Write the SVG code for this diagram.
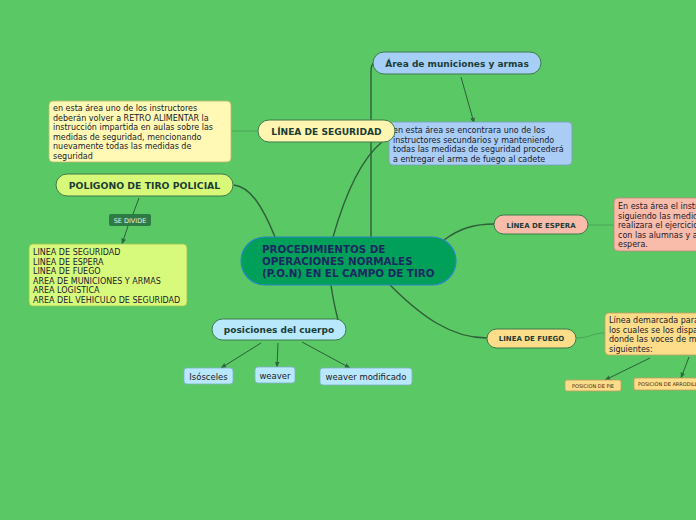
<svg xmlns="http://www.w3.org/2000/svg" width="696" height="520" viewBox="0 0 696 520">
<defs>
<marker id="ah" viewBox="0 0 10 10" refX="9" refY="5" markerWidth="6" markerHeight="6" orient="auto-start-reverse"><path d="M0,1 L10,5 L0,9 z" fill="#2d6a3d"/></marker>
<style>
text{font-family:"DejaVu Sans","Verdana",sans-serif;}
.con{fill:none;stroke:#2f5e3a;stroke-width:1.4;}
.thin{fill:none;stroke:#4aa35a;stroke-width:1;}
.arr{fill:none;stroke:#2f5e3a;stroke-width:1;marker-end:url(#ah);}
.box{stroke:#3d7a4a;stroke-width:1;}
.note{stroke:#8aa060;stroke-width:0.8;}
.t{font-size:8px;fill:#1a1a2a;}
.b{font-weight:bold;fill:#1b3d35;text-anchor:middle;}
</style>
</defs>
<rect width="696" height="520" fill="#5ac864"/>
<g id="connectors">
<path class="con" d="M333,237 C345,195 360,160 382,142"/>
<path class="con" d="M371,237 L371,72 Q371,64 374,63"/>
<path class="con" d="M275,237 C262,205 250,187 234,185"/>
<path class="con" d="M331,285 C333,300 336,312 338,320"/>
<path class="con" d="M444,240 C460,228 475,224 494,224"/>
<path class="con" d="M390,285 C420,315 450,338 487,338"/>
<path class="thin" d="M231,131 L258,131"/>
<path class="thin" d="M588,225 L614,225"/>
<path class="thin" d="M576,338 C590,338 592,333 605,333"/>
<path class="arr" d="M461,77 L474,123"/>
<path class="con" style="stroke-width:1" d="M139,198 L133,214"/>
<path class="arr" d="M128,226 L122,244"/>
<path class="arr" d="M261,343 L221,368"/>
<path class="arr" d="M278,343 L277,367"/>
<path class="arr" d="M302,342 L350,368"/>
<path class="arr" d="M650,358 L605,380"/>
<path class="arr" d="M689,357 L681,378"/>
</g>
<g id="center">
<rect x="241" y="237" width="215" height="48" rx="24" fill="#00a05a" stroke="#2b86c8" stroke-width="1.2"/>
<text x="262" y="253" style="font-size:10.3px;font-weight:bold;fill:#1a2860">PROCEDIMIENTOS DE</text>
<text x="262" y="265" style="font-size:10.3px;font-weight:bold;fill:#1a2860">OPERACIONES NORMALES</text>
<text x="262" y="277" style="font-size:10.3px;font-weight:bold;fill:#1a2860">(P.O.N) EN EL CAMPO DE TIRO</text>
</g>
<g id="municiones">
<rect class="box" x="373" y="52" width="168" height="22" rx="11" fill="#a6cff7"/>
<text class="b" x="457" y="66.5" style="font-size:9px">Área de municiones y armas</text>
</g>
<g id="municiones-note">
<rect class="note" x="389" y="122" width="183" height="43" rx="4" fill="#a9cdf5" style="stroke:#7a9cc0"/>
<text class="t" x="393" y="133">en esta área se encontrara uno de los</text>
<text class="t" x="393" y="142.5">instructores secundarios y manteniendo</text>
<text class="t" x="393" y="152">todas las medidas de seguridad procederá</text>
<text class="t" x="393" y="161.5">a entregar el arma de fuego al cadete</text>
</g>
<g id="seguridad">
<rect class="box" x="258" y="120" width="137" height="22" rx="11" fill="#fdf5b0"/>
<text class="b" x="326.5" y="134.5" style="font-size:9.1px">LÍNEA DE SEGURIDAD</text>
</g>
<g id="seguridad-note">
<rect class="note" x="49" y="101" width="182" height="61" rx="4" fill="#fff9b5" style="stroke:#c0b870"/>
<text class="t" x="53" y="111">en esta área uno de los instructores</text>
<text class="t" x="53" y="120.5">deberán volver a RETRO ALIMENTAR la</text>
<text class="t" x="53" y="130">instrucción impartida en aulas sobre las</text>
<text class="t" x="53" y="139.5">medidas de seguridad, mencionando</text>
<text class="t" x="53" y="149">nuevamente todas las medidas de</text>
<text class="t" x="53" y="158.5">seguridad</text>
</g>
<g id="poligono">
<rect class="box" x="56" y="174" width="177" height="22" rx="11" fill="#d8f87a"/>
<text class="b" x="144.5" y="188.5" style="font-size:9.3px">POLIGONO DE TIRO POLICIAL</text>
</g>
<g id="se-divide">
<rect x="109" y="214" width="42" height="12" rx="2" fill="#2e7a44"/>
<text x="130" y="222.5" style="font-size:6.5px;fill:#e8f5e8;text-anchor:middle">SE DIVIDE</text>
</g>
<g id="poligono-note">
<rect class="note" x="29" y="244" width="158" height="62" rx="4" fill="#d8fa7c" style="stroke:#a0c050"/>
<text class="t" x="33" y="255">LINEA DE SEGURIDAD</text>
<text class="t" x="33" y="264.5">LINEA DE ESPERA</text>
<text class="t" x="33" y="274">LINEA DE FUEGO</text>
<text class="t" x="33" y="283.5">AREA DE MUNICIONES Y ARMAS</text>
<text class="t" x="33" y="293">AREA LOGISTICA</text>
<text class="t" x="33" y="302.5">AREA DEL VEHICULO DE SEGURIDAD</text>
</g>
<g id="posiciones">
<rect class="box" x="212" y="319" width="134" height="21" rx="10.5" fill="#b8e8fc"/>
<text class="b" x="279" y="333" style="font-size:9px">posiciones del cuerpo</text>
</g>
<g id="isosceles">
<rect class="note" x="184" y="368" width="49" height="16" rx="3" fill="#b8e8fc" style="stroke:#80b0c8"/>
<text class="t" x="208.5" y="379.5" style="text-anchor:middle;font-size:8.5px">Isósceles</text>
</g>
<g id="weaver">
<rect class="note" x="255" y="367" width="40" height="16" rx="3" fill="#b8e8fc" style="stroke:#80b0c8"/>
<text class="t" x="275" y="378.5" style="text-anchor:middle;font-size:8.5px">weaver</text>
</g>
<g id="weaver-mod">
<rect class="note" x="320" y="368" width="92" height="17" rx="3" fill="#b8e8fc" style="stroke:#80b0c8"/>
<text class="t" x="366" y="380" style="text-anchor:middle;font-size:8.5px">weaver modificado</text>
</g>
<g id="espera">
<rect class="box" x="494" y="215" width="94" height="19" rx="9.5" fill="#f9bcaa"/>
<text class="b" x="541" y="227.5" style="font-size:7px">LÍNEA DE ESPERA</text>
</g>
<g id="espera-note">
<rect class="note" x="614" y="198" width="100" height="53" rx="4" fill="#f9bcaa" style="stroke:#c08878"/>
<text class="t" x="618" y="209">En esta área el instructor</text>
<text class="t" x="618" y="218.5">siguiendo las medidas de</text>
<text class="t" x="618" y="228">realizara el ejercicio de</text>
<text class="t" x="618" y="237.5">con las alumnas y alumnos</text>
<text class="t" x="618" y="247">espera.</text>
</g>
<g id="fuego">
<rect class="box" x="487" y="329" width="89" height="19" rx="9.5" fill="#fddc8a"/>
<text class="b" x="531.5" y="341" style="font-size:7px">LINEA DE FUEGO</text>
</g>
<g id="fuego-note">
<rect class="note" x="605" y="313" width="110" height="42" rx="4" fill="#fddc8a" style="stroke:#c0a060"/>
<text class="t" x="609" y="323">Línea demarcada para los</text>
<text class="t" x="609" y="332.5">los cuales se los disparos</text>
<text class="t" x="609" y="342">donde las voces de mando</text>
<text class="t" x="609" y="351.5">siguientes:</text>
</g>
<g id="pie">
<rect class="note" x="565" y="380" width="56" height="11" rx="2" fill="#fddc8a" style="stroke:#c0a060"/>
<text x="593" y="387.8" style="font-size:5px;fill:#3a2a10;text-anchor:middle">POSICION DE PIE</text>
</g>
<g id="arrodillado">
<rect class="note" x="634" y="378" width="80" height="12" rx="2" fill="#fddc8a" style="stroke:#c0a060"/>
<text x="638" y="386.3" style="font-size:5px;fill:#3a2a10">POSICIÓN DE ARRODILLADO</text>
</g>
</svg>
